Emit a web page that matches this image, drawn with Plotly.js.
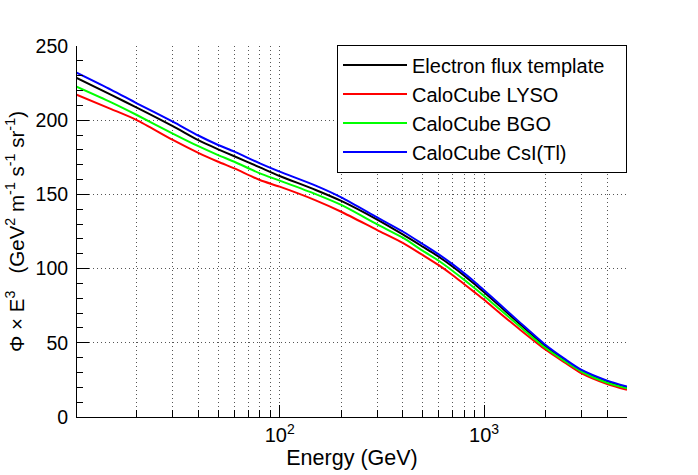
<!DOCTYPE html>
<html>
<head>
<meta charset="utf-8">
<script src="https://cdn.plot.ly/plotly-3.0.1.min.js"></script>
<style>html,body{margin:0;padding:0;background:#fff;}#chart{width:698px;height:475px;}</style>
</head>
<body>
<div id="chart"></div>
<script>
// Energy (GeV)
const energy = [10, 15, 20, 30, 40, 50, 60, 80, 100, 150, 200, 300, 400, 500, 600, 700, 800, 900, 1000, 1200, 1500, 2000, 2500, 3000, 4000, 5000];
// Phi x E^3 values
const template = [229, 217, 208.5, 196, 186.5, 180.4, 175.7, 168.2, 162.4, 153.0, 145.6, 133, 123, 114.8, 108, 101.4, 95.2, 89.4, 84.0, 74.4, 62.5, 47.6, 38.0, 31.2, 23.8, 19.8];
const lyso = [217.6, 207.5, 200.1, 186.7, 178, 172, 167.5, 159.7, 155.2, 146.0, 138.3, 126, 117.4, 109.2, 102.3, 95.7, 89.5, 84, 79, 69.8, 58.8, 45.3, 36.4, 29.4, 22.2, 18.3];
const bgo = [223, 212, 203.5, 191, 182.5, 176.5, 172, 164.2, 159.3, 150.2, 142.9, 129.8, 120.8, 112.1, 105.3, 98.6, 92.4, 86.8, 81.6, 72.2, 60.8, 46.5, 37.3, 30.5, 23.1, 19.4];
const csi = [232.5, 220.5, 211.4, 199, 189.7, 183.3, 178.8, 170.9, 165.3, 155.9, 148, 134.5, 125, 116.6, 109.6, 103, 96.8, 91, 85.4, 75.6, 63.6, 48.5, 38.8, 31.7, 24.5, 20.5];

const seriesNames = ["Electron flux template", "CaloCube LYSO", "CaloCube BGO", "CaloCube CsI(Tl)"];
const seriesColors = ["#000000", "#ff0000", "#00ff00", "#0000ff"];
const seriesValues = [template, lyso, bgo, csi];

const xTickVals = [100, 1000];
const xTickText = ["10<sup>2</sup>", "10<sup>3</sup>"];
const xMinorVals = [20, 30, 40, 50, 60, 70, 80, 90, 200, 300, 400, 500, 600, 700, 800, 900, 2000, 3000, 4000, 5000];

// legend box in the reference leaves room to the right of the longest label
const legendPad = "&nbsp;&nbsp;&nbsp;";

const traces = seriesNames.map((n, i) => ({
  x: energy, y: seriesValues[i], name: i === 0 ? n + legendPad : n, type: "scatter", mode: "lines",
  line: {color: seriesColors[i], width: 2, shape: "spline", smoothing: 0.7}
}));

const font = "'Liberation Sans', Arial, Helvetica, sans-serif";
const gridDash = "1px,3px";
const gridColor = "#555";
const layout = {
  width: 698, height: 475,
  margin: {l: 77, r: 71, t: 46, b: 58},
  paper_bgcolor: "#fff", plot_bgcolor: "#fff",
  font: {family: font, color: "#000", size: 19},
  showlegend: true,
  legend: {
    x: 1, xanchor: "right", y: 1.004, yanchor: "top",
    bgcolor: "#fff", bordercolor: "#000", borderwidth: 1,
    font: {family: font, size: 20, color: "#000"},
    itemwidth: 64
  },
  xaxis: {
    type: "log",
    range: [Math.log10(10.2), Math.log10(5000)],
    showline: true, linecolor: "#000", linewidth: 1,
    ticks: "inside", ticklen: 12, tickcolor: "#000",
    tickmode: "array", tickvals: xTickVals, ticktext: xTickText,
    showgrid: true, gridcolor: gridColor, griddash: gridDash, gridwidth: 1,
    zeroline: false,
    tickfont: {family: font, size: 20},
    minor: {tickmode: "array", tickvals: xMinorVals, ticks: "inside", ticklen: 7, tickcolor: "#000",
            showgrid: true, gridcolor: gridColor, griddash: gridDash, gridwidth: 1},
    title: {text: "Energy (GeV)", font: {family: font, size: 21.5}, standoff: 2}
  },
  yaxis: {
    range: [0, 250],
    showline: true, linecolor: "#000", linewidth: 1,
    ticks: "inside", ticklen: 12, tickcolor: "#000",
    dtick: 50, tick0: 0,
    showgrid: true, gridcolor: gridColor, griddash: gridDash, gridwidth: 1,
    zeroline: false,
    tickfont: {family: font, size: 19.5},
    ticklabelstandoff: 4,
    automargin: true,
    minor: {dtick: 10, ticks: "inside", ticklen: 6, tickcolor: "#000", showgrid: false},
    title: {text: "\u03A6 \u00D7 E<sup>3</sup>&nbsp;&nbsp;&nbsp;(GeV<sup>2</sup> m<sup>-1</sup> s<sup>-1</sup> sr<sup>-1</sup>)",
            font: {family: font, size: 20.5}, standoff: 5}
  }
};

Plotly.newPlot("chart", traces, layout, {staticPlot: true, displayModeBar: false});
</script>
</body>
</html>
